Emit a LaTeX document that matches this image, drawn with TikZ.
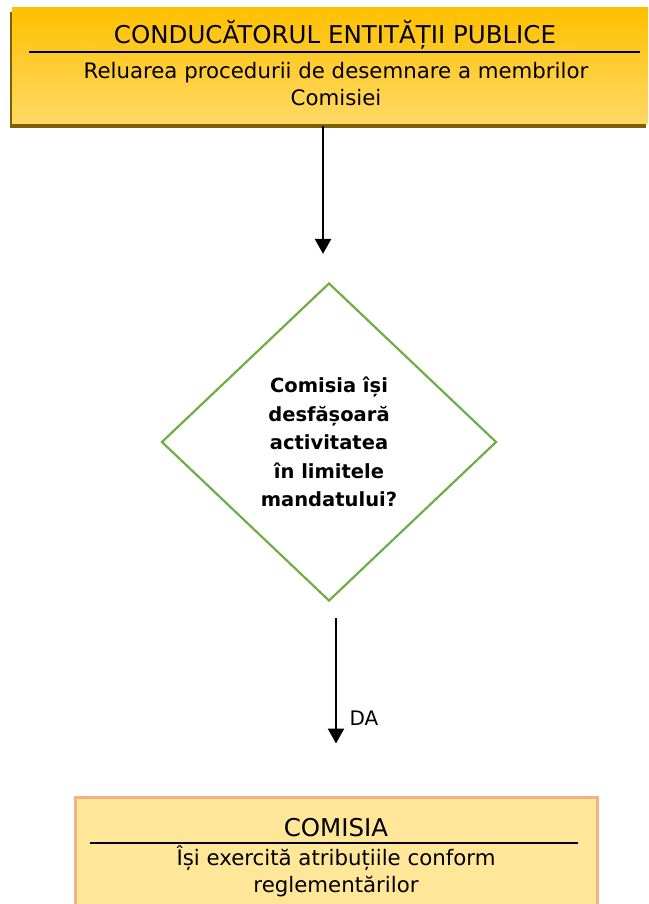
\documentclass[tikz,border=0pt]{standalone}
\usepackage{fontspec}
\setmainfont{DejaVu Sans}
\usetikzlibrary{arrows.meta,shapes.geometric,shadows,calc}

\definecolor{goldtop}{HTML}{FFC000}
\definecolor{goldbottom}{HTML}{FFD966}
\definecolor{goldshadow}{HTML}{7F6000}
\definecolor{decisiongreen}{HTML}{70AD47}
\definecolor{paleyellow}{HTML}{FFE699}
\definecolor{salmonedge}{HTML}{F4B183}

\tikzset{
  flow/.style={draw=black, line width=2.4pt, -{Triangle[width=16pt,length=15pt]}},
  rulebar/.style={draw=black, line width=1.6pt},
  titletext/.style={font=\fontsize{24.5}{27}\selectfont, inner sep=0pt},
  bodytext/.style={font=\fontsize{21.3}{27}\selectfont, align=center, inner sep=0pt},
}

\begin{document}
\begin{tikzpicture}[x=1pt, y=-1pt]
  \useasboundingbox (0,0) rectangle (648,904);
  \clip (0,0) rectangle (648,904);

  % conducatorul entitatii publice
  \node[draw=none, top color=goldtop, bottom color=goldbottom,
        minimum width=636pt, minimum height=116pt, inner sep=0pt,
        general shadow={fill=goldshadow, shadow xshift=-2pt, shadow yshift=-4pt}]
        (conducator) at (330,66) {};
  \node[titletext] (conducatortitlu) at (335,35) {CONDUCĂTORUL ENTITĂȚII PUBLICE};
  \draw[rulebar] (29,52) -- (640,52);
  \node[bodytext] (conducatortext) at (336,84)
        {Reluarea procedurii de desemnare a membrilor\\Comisiei};

  % decizie
  \node[diamond, draw=decisiongreen, line width=2.2pt, inner sep=0pt,
        minimum width=335pt, minimum height=318pt, align=center,
        font=\bfseries\fontsize{19.5}{28.5}\selectfont]
        (intrebare) at (329,442)
        {Comisia își\\desfășoară\\activitatea\\în limitele\\mandatului?};

  % comisia
  \node[draw=salmonedge, line width=3pt, fill=paleyellow,
        minimum width=522pt, minimum height=130pt, inner sep=0pt]
        (comisia) at (336,862) {};
  \node[titletext] (comisiatitlu) at (336,828) {COMISIA};
  \draw[rulebar] (90,843) -- (578,843);
  \node[bodytext] (comisiatext) at (336,871)
        {Își exercită atribuțiile conform\\reglementărilor};

  % sageti
  \draw[flow, shorten <=2pt, shorten >=28pt]
        ($(conducator.south)+(-7,0)$) -- ($(intrebare.north)+(-6,0)$);
  \draw[flow, shorten <=16pt, shorten >=52pt]
        ($(intrebare.south)+(7,0)$) -- (comisia.north);
  \node[font=\fontsize{20}{22}\selectfont, inner sep=0pt] (da) at (364,718) {DA};
\end{tikzpicture}
\end{document}
